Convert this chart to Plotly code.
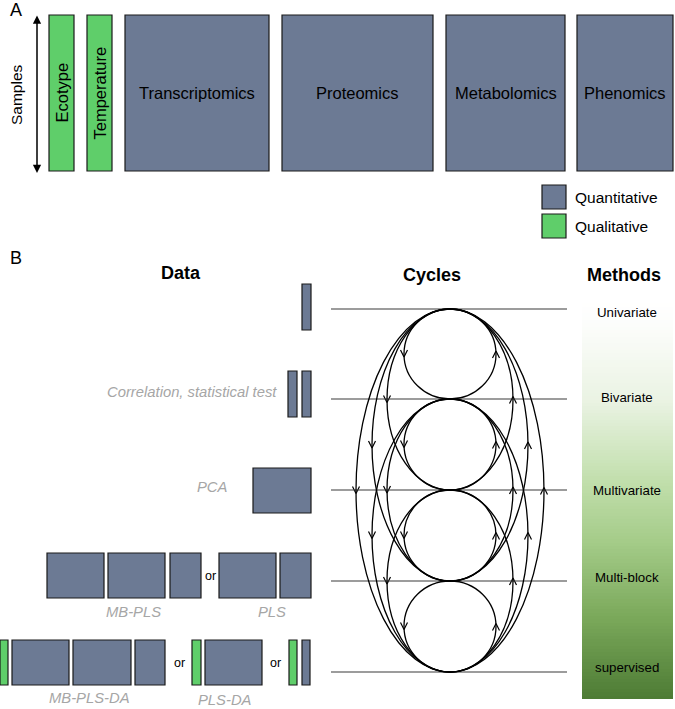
import numpy as np
import plotly.graph_objects as go

# ---- Panel A: data blocks ----
A_NAMES = ["Ecotype", "Temperature", "Transcriptomics", "Proteomics", "Metabolomics", "Phenomics"]
A_KINDS = ["qual", "qual", "quant", "quant", "quant", "quant"]
A_X0 = [49, 87, 125, 282, 446, 577]
A_X1 = [74, 112, 269, 433, 565, 673]
A_TOP, A_BOTTOM = 15, 171

LEGEND_NAMES = ["Quantitative", "Qualitative"]
LEGEND_KINDS = ["quant", "qual"]

# ---- Panel B: levels / methods ----
LEVELS = ["Univariate", "Bivariate", "Multivariate", "Multi-block", "supervised"]
LEVEL_Y = [309, 399, 490, 581, 672]
LABEL_Y = [312, 397, 490, 577, 667]
# half-width of a cycle loop by the number of levels it spans
SPAN_HALF_WIDTH = {1: 46, 2: 63, 3: 78, 4: 94}
CYCLE_X = 450

# Data column rows: (kind, x0, x1) per block, plus "or" separators and italic labels
B_ROWS = [
    dict(y=(284, 330), blocks=[("quant", 302, 311)], ors=[], labels=[]),
    dict(y=(371, 417), blocks=[("quant", 288, 297), ("quant", 302, 311)], ors=[],
         labels=[("Correlation, statistical test", 279, 392, "right")]),
    dict(y=(468, 513), blocks=[("quant", 253, 311)], ors=[],
         labels=[("PCA", 212, 487, "center")]),
    dict(y=(553, 598), blocks=[("quant", 47, 104), ("quant", 108, 165), ("quant", 170, 201),
                                ("quant", 219, 276), ("quant", 280, 311)],
         ors=[210], labels=[("MB-PLS", 133, 612, "center"), ("PLS", 272, 612, "center")]),
    dict(y=(640, 685), blocks=[("qual", 0, 8), ("quant", 12, 69), ("quant", 73, 131),
                                ("quant", 135, 165), ("qual", 192, 201), ("quant", 205, 262),
                                ("qual", 289, 297), ("quant", 302, 310)],
         ors=[179, 275], labels=[("MB-PLS-DA", 89, 698, "center"), ("PLS-DA", 225, 700, "center")]),
]

COLORS = {"quant": "#6c7a94", "qual": "#5fce6a"}
GRAD_STOPS = [(0.0, "#ffffff"), (0.06, "#fcfdfb"), (0.25, "#eaf3e3"), (0.45, "#c2dfad"),
              (0.6, "#a6cd8a"), (0.8, "#7aa85a"), (1.0, "#4e7c35")]
FONT = "Liberation Sans, Arial, sans-serif"

fig = go.Figure()
shapes = []
annotations = []


def box(x0, x1, y0, y1, kind):
    shapes.append(dict(type="rect", x0=x0, x1=x1, y0=y0, y1=y1,
                       fillcolor=COLORS[kind], line=dict(color="#1a1a1a", width=1.2), layer="above"))


def text(s, x, y, size=14, color="black", angle=0, bold=False, italic=False, anchor="center"):
    if bold:
        s = "<b>" + s + "</b>"
    if italic:
        s = "<i>" + s + "</i>"
    annotations.append(dict(text=s, x=x, y=y, xref="x", yref="y", showarrow=False,
                            textangle=angle, xanchor=anchor, yanchor="middle",
                            font=dict(family=FONT, size=size, color=color)))


# ---- Panel A ----
text("A", 8, 10, size=18, anchor="left")
for name, kind, x0, x1 in zip(A_NAMES, A_KINDS, A_X0, A_X1):
    box(x0, x1, A_TOP, A_BOTTOM, kind)
    if kind == "qual":
        text(name, (x0 + x1) / 2, (A_TOP + A_BOTTOM) / 2, size=16.5, angle=-90)
    else:
        text(name, (x0 + x1) / 2, (A_TOP + A_BOTTOM) / 2, size=16.5)

text("Samples", 16, 95, size=15.5, angle=-90)
annotations.append(dict(x=37, y=A_BOTTOM + 2, ax=37, ay=A_TOP - 1, xref="x", yref="y",
                        axref="x", ayref="y", text="", showarrow=True, arrowhead=2,
                        startarrowhead=2, arrowside="end+start", arrowsize=1.1,
                        arrowwidth=1.5, arrowcolor="black"))

for i, (name, kind) in enumerate(zip(LEGEND_NAMES, LEGEND_KINDS)):
    y0 = 185 + i * 29
    box(542, 566, y0, y0 + 24, kind)
    text(name, 573, y0 + 12, size=15.5, anchor="left")

# ---- Panel B headers ----
text("B", 8, 258, size=18, anchor="left")
text("Data", 181, 273, size=18, bold=True)
text("Cycles", 432, 275, size=18, bold=True)
text("Methods", 624, 275, size=18, bold=True)

# Data rows
for row in B_ROWS:
    y0, y1 = row["y"]
    for kind, x0, x1 in row["blocks"]:
        box(x0, x1, y0, y1, kind)
    for xo in row["ors"]:
        text("or", xo, (y0 + y1) / 2, size=12.5)
    for s, x, y, anchor in row["labels"]:
        text(s, x, y, size=14.8, color="#a6a6a6", italic=True, anchor=anchor)

# Methods gradient column (heatmap along y)
n = 120
grad_edges = np.linspace(300, 699, n + 1)
grad_vals = [[v] for v in np.linspace(0, 1, n)]
fig.add_trace(go.Heatmap(x=[582, 673], y=grad_edges, z=grad_vals, colorscale=GRAD_STOPS,
                         zmin=0, zmax=1, showscale=False, hoverinfo="skip"))
for name, y in zip(LEVELS, LABEL_Y):
    text(name, 627, y, size=13.3)

# Level lines
for y in LEVEL_Y:
    shapes.append(dict(type="line", x0=331, x1=567, y0=y, y1=y,
                       line=dict(color="#3a3a3a", width=1.2)))

# Cycle loops between every pair of levels, with arrowheads at widest points
chev_x, chev_y = [], []
for i in range(len(LEVEL_Y)):
    for j in range(i + 1, len(LEVEL_Y)):
        a = SPAN_HALF_WIDTH[j - i]
        ytop, ybot = LEVEL_Y[i], LEVEL_Y[j]
        shapes.append(dict(type="circle", x0=CYCLE_X - a, x1=CYCLE_X + a, y0=ytop, y1=ybot,
                           line=dict(color="black", width=1.3)))
        yc = (ytop + ybot) / 2
        xl, xr = CYCLE_X - a, CYCLE_X + a
        # left: pointing down
        chev_x += [xl - 3.5, xl, xl + 3.5, None]
        chev_y += [yc - 4, yc + 3, yc - 4, None]
        # right: pointing up
        chev_x += [xr - 3.5, xr, xr + 3.5, None]
        chev_y += [yc + 4, yc - 3, yc + 4, None]

fig.add_trace(go.Scatter(x=chev_x, y=chev_y, mode="lines", line=dict(color="black", width=1.2),
                         hoverinfo="skip", showlegend=False))

fig.update_layout(
    width=675, height=709,
    margin=dict(l=0, r=0, t=0, b=0),
    paper_bgcolor="white", plot_bgcolor="white",
    xaxis=dict(range=[0, 675], visible=False, fixedrange=True),
    yaxis=dict(range=[709, 0], visible=False, fixedrange=True),
    shapes=shapes, annotations=annotations, showlegend=False,
)

# drop the page's default body margin so the figure sits at the window corner
fig.write_html("out.html", config={"displayModeBar": False},
               post_script="document.body.style.margin='0';")
